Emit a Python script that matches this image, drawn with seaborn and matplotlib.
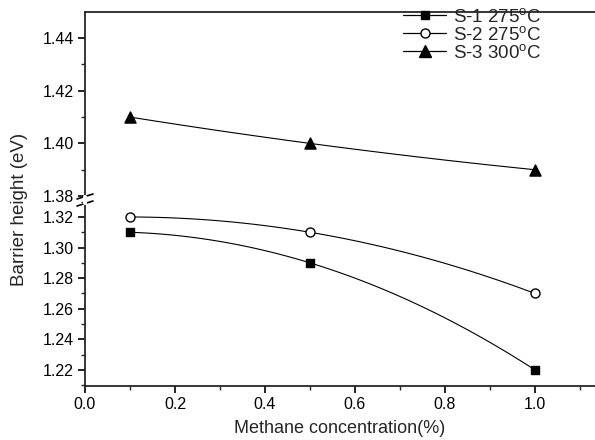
import numpy as np
import pandas as pd
import matplotlib
matplotlib.use("Agg")
import matplotlib.pyplot as plt
from matplotlib.lines import Line2D
from matplotlib.ticker import MultipleLocator, FormatStrFormatter
import seaborn as sns

# ---- data ----
conc = [0.1, 0.5, 1.0]
s1 = [1.31, 1.29, 1.22]
s2 = [1.32, 1.31, 1.27]
s3 = [1.41, 1.40, 1.39]
labels = ["S-1 275$^{\\mathrm{o}}$C", "S-2 275$^{\\mathrm{o}}$C", "S-3 300$^{\\mathrm{o}}$C"]
upper_ticks = [1.38, 1.40, 1.42, 1.44]
lower_ticks = [1.22, 1.24, 1.26, 1.28, 1.30, 1.32]
x_ticks = [0.0, 0.2, 0.4, 0.6, 0.8, 1.0]

sns.set_theme(style="ticks")
plt.rcParams["font.family"] = ["Liberation Sans", "DejaVu Sans"]
plt.rcParams["mathtext.fontset"] = "custom"
plt.rcParams["mathtext.rm"] = "Liberation Sans"
plt.rcParams["mathtext.it"] = "Liberation Sans:italic"

W, H = 595, 440
fig = plt.figure(figsize=(W / 100, H / 100), dpi=100)
left = 85 / W
width = 510 / W
ax_lo = fig.add_axes([left, (H - 386) / H, width, 186 / H])
ax_hi = fig.add_axes([left, (H - 200) / H, width, 188 / H], sharex=ax_lo)

styles = [
    dict(marker="s", mfc="black", mec="black", ms=6),
    dict(marker="o", mfc="white", mec="black", ms=6.5),
    dict(marker="^", mfc="black", mec="black", ms=8),
]
series = [(s1, ax_lo), (s2, ax_lo), (s3, ax_hi)]

xs = np.linspace(conc[0], conc[-1], 100)
for (vals, ax), st in zip(series, styles):
    coef = np.polyfit(conc, vals, 2)
    curve = pd.DataFrame({"x": xs, "y": np.polyval(coef, xs)})
    sns.lineplot(data=curve, x="x", y="y", ax=ax, color="black", lw=0.8, zorder=2)
    pts = pd.DataFrame({"x": conc, "y": vals})
    sns.scatterplot(data=pts, x="x", y="y", ax=ax, marker=st["marker"],
                    s=st["ms"] ** 2, facecolor=st["mfc"], edgecolor=st["mec"],
                    linewidth=1.0, zorder=3)

ax_lo.set_xlim(0, 510 / 450)
ax_lo.set_ylim(1.2095, 1.3311)
ax_hi.set_ylim(1.3785, 1.4499)

for ax in (ax_lo, ax_hi):
    ax.set_xlabel("")
    ax.set_ylabel("")
    ax.spines["right"].set_visible(False)
    for sp in ax.spines.values():
        sp.set_linewidth(1.3)
    ax.tick_params(which="major", direction="out", length=5, width=1.2,
                   labelsize=11.5, colors="black", pad=3)
    ax.tick_params(which="minor", direction="out", length=3, width=1.0)
    ax.yaxis.set_minor_locator(MultipleLocator(0.01))
    ax.yaxis.set_major_formatter(FormatStrFormatter("%.2f"))
    ax.set_facecolor("none")

ax_lo.spines["top"].set_visible(False)
ax_hi.spines["bottom"].set_visible(False)
ax_hi.tick_params(axis="x", which="both", bottom=False, labelbottom=False)
ax_lo.set_yticks(lower_ticks)
ax_hi.set_yticks(upper_ticks)
ax_lo.set_xticks(x_ticks)
ax_lo.xaxis.set_minor_locator(MultipleLocator(0.1))
ax_lo.xaxis.set_major_formatter(FormatStrFormatter("%.1f"))

ax_lo.set_xlabel("Methane concentration(%)", fontsize=13, labelpad=6)
fig.text(20 / W, 1 - 209 / H, "Barrier height (eV)", rotation=90,
         ha="center", va="center", fontsize=13.5)

# axis break marks on the left spine
yb = 1 - 200 / H
for dy in (-3.5, 3.5):
    fig.add_artist(Line2D([left - 8 / W, left + 8 / W],
                          [yb + (dy - 2.5) / H, yb + (dy + 2.5) / H],
                          transform=fig.transFigure, color="black", lw=1.2))
fig.add_artist(Line2D([left, left], [yb - 2.5 / H, yb + 2.5 / H],
                      transform=fig.transFigure, color="white", lw=3, zorder=5))

handles = [Line2D([], [], color="black", lw=0.9, marker=st["marker"],
                  mfc=st["mfc"], mec=st["mec"], ms=st["ms"]) for st in styles]
fig.legend(handles, labels, loc="upper left", bbox_to_anchor=(403 / W, 1 - 8 / H),
           frameon=False, fontsize=13.5, handlelength=2.3, handletextpad=0.35,
           labelspacing=0.0, borderaxespad=0, borderpad=0)

fig.savefig("out.png", dpi=100)
